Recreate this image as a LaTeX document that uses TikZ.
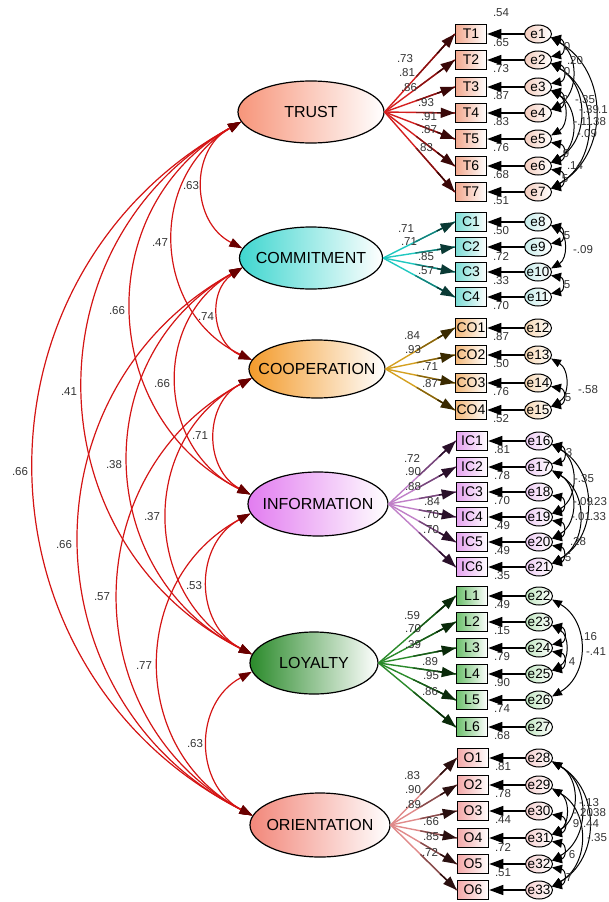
\documentclass[tikz,border=0pt]{standalone}
\usepackage{fontspec}
\setmainfont{Liberation Sans}
\usetikzlibrary{shapes.geometric,arrows.meta,calc}
\definecolor{trE}{HTML}{F7957A}\definecolor{trB}{HTML}{F2A88E}\definecolor{trR}{HTML}{F5CDBE}
\definecolor{trA}{HTML}{D42020}\definecolor{trD}{HTML}{3A0808}
\definecolor{cmE}{HTML}{3FD6CF}\definecolor{cmB}{HTML}{7ADCD5}\definecolor{cmR}{HTML}{C8EEEC}
\definecolor{cmA}{HTML}{20C8C0}\definecolor{cmD}{HTML}{0A3A35}
\definecolor{coE}{HTML}{F39A2A}\definecolor{coB}{HTML}{F4B878}\definecolor{coR}{HTML}{F7D6B0}
\definecolor{coA}{HTML}{D4A020}\definecolor{coD}{HTML}{3A2A00}
\definecolor{inE}{HTML}{E27CF0}\definecolor{inB}{HTML}{E6A2F0}\definecolor{inR}{HTML}{EFCCF5}
\definecolor{inA}{HTML}{C080C8}\definecolor{inD}{HTML}{2A102A}
\definecolor{loE}{HTML}{2A8A2A}\definecolor{loB}{HTML}{6CC06C}\definecolor{loR}{HTML}{C0E6C0}
\definecolor{loA}{HTML}{2A8A2A}\definecolor{loD}{HTML}{0A2A0A}
\definecolor{orE}{HTML}{F2877A}\definecolor{orB}{HTML}{F4A8A8}\definecolor{orR}{HTML}{F6CECE}
\definecolor{orA}{HTML}{E08A8A}\definecolor{orD}{HTML}{2A1010}
\definecolor{covline}{HTML}{D41414}\definecolor{covhead}{HTML}{6A0000}
\definecolor{numcol}{HTML}{333333}
\newcommand\zb[1]{\makebox[0pt]{#1}}
\newcommand\loadarr[4]{%
  \draw[line width=1.4pt,#3] (#1.east) -- (#2.west);
  \draw[line width=1.4pt,#3!50!#4] ($(#1.east)!0.45!(#2.west)$) -- (#2.west);
  \draw[line width=1.4pt,#4,-{Triangle[length=14pt,width=10pt]}] ($(#1.east)!0.75!(#2.west)$) -- (#2.west);}
\tikzset{
  latnode/.style={ellipse,draw=black,line width=1.2pt,inner sep=0pt,font=\fontsize{16}{16}\selectfont,left color=#1,right color=white},
  indbox/.style={rectangle,draw=black,line width=1.5pt,minimum width=31pt,minimum height=19pt,inner sep=0pt,font=\fontsize{14}{14}\selectfont,left color=#1,right color=white},
  errnode/.style={ellipse,draw=black,line width=1pt,minimum width=27pt,minimum height=18pt,inner sep=0pt,font=\fontsize{13.5}{13.5}\selectfont,left color=#1,right color=white},
  num/.style={font=\fontsize{11.5}{11.5}\selectfont,text=numcol,inner sep=0pt},
  errarr/.style={line width=1.2pt,-{Triangle[length=14pt,width=10pt]}},
  ecov/.style={line width=1pt,{Triangle[length=10pt,width=8pt]}-{Triangle[length=10pt,width=8pt]},bend left=60,looseness=1.15},
  ecovs/.style={line width=1pt,{Triangle[length=10pt,width=9pt]}-{Triangle[length=10pt,width=9pt]},bend left=80,looseness=2},
  lcov/.style={line width=1.2pt,covline,{Triangle[length=13pt,width=9pt,color=covhead]}-{Triangle[length=13pt,width=9pt,color=covhead]},bend right=62,looseness=1.18}
}
\begin{document}
\begin{tikzpicture}[x=1pt,y=-1pt]
\useasboundingbox (0,0) rectangle (609,902);
% latent variables
\node[latnode=trE,minimum width=146pt,minimum height=62pt] (TRUST) at (311,112) {\zb{TRUST}};
\node[latnode=cmE,minimum width=143pt,minimum height=62pt] (COMMITMENT) at (311,258) {\zb{COMMITMENT}};
\node[latnode=coE,minimum width=136pt,minimum height=58pt] (COOPERATION) at (317,369) {\zb{COOPERATION}};
\node[latnode=inE,minimum width=140pt,minimum height=64pt] (INFORMATION) at (318,504) {\zb{INFORMATION}};
\node[latnode=loE,minimum width=128pt,minimum height=62pt] (LOYALTY) at (314,663) {\zb{LOYALTY}};
\node[latnode=orE,minimum width=140pt,minimum height=64pt] (ORIENTATION) at (320,825) {\zb{ORIENTATION}};
% indicators and errors
\foreach \n/\y [count=\i] in {T1/34,T2/60,T3/87,T4/113,T5/139,T6/166,T7/192}{
  \node[indbox=trB] (\n) at (471,\y) {\n};
  \node[errnode=trR] (e\i) at (538,\y) {\zb{e\i}};}
\foreach \n/\y [count=\i from 8] in {C1/222,C2/247,C3/272,C4/297}{
  \node[indbox=cmB] (\n) at (471,\y) {\n};
  \node[errnode=cmR] (e\i) at (538,\y) {\zb{e\i}};}
\foreach \n/\y [count=\i from 12] in {CO1/328,CO2/355,CO3/383,CO4/410}{
  \node[indbox=coB] (\n) at (471,\y) {\n};
  \node[errnode=coR] (e\i) at (538,\y) {\zb{e\i}};}
\foreach \n/\y [count=\i from 16] in {IC1/441,IC2/467,IC3/492,IC4/517,IC5/542,IC6/567}{
  \node[indbox=inB] (\n) at (472,\y) {\n};
  \node[errnode=inR] (e\i) at (539,\y) {\zb{e\i}};}
\foreach \n/\y [count=\i from 22] in {L1/596,L2/622,L3/648,L4/674,L5/700,L6/727}{
  \node[indbox=loB] (\n) at (472,\y) {\n};
  \node[errnode=loR] (e\i) at (539,\y) {\zb{e\i}};}
\foreach \n/\y [count=\i from 28] in {O1/758,O2/785,O3/811,O4/838,O5/864,O6/890}{
  \node[indbox=orB] (\n) at (473,\y) {\n};
  \node[errnode=orR] (e\i) at (539,\y) {\zb{e\i}};}
% loadings
\foreach \b in {T1,T2,T3,T4,T5,T6,T7}{\loadarr{TRUST}{\b}{trA}{trD}}
\foreach \b in {C1,C2,C3,C4}{\loadarr{COMMITMENT}{\b}{cmA}{cmD}}
\foreach \b in {CO1,CO2,CO3,CO4}{\loadarr{COOPERATION}{\b}{coA}{coD}}
\foreach \b in {IC1,IC2,IC3,IC4,IC5,IC6}{\loadarr{INFORMATION}{\b}{inA}{inD}}
\foreach \b in {L1,L2,L3,L4,L5,L6}{\loadarr{LOYALTY}{\b}{loA}{loD}}
\foreach \b in {O1,O2,O3,O4,O5,O6}{\loadarr{ORIENTATION}{\b}{orA}{orD}}
% error arrows
\foreach \e/\b in {e1/T1,e2/T2,e3/T3,e4/T4,e5/T5,e6/T6,e7/T7,e8/C1,e9/C2,e10/C3,e11/C4,
  e12/CO1,e13/CO2,e14/CO3,e15/CO4,e16/IC1,e17/IC2,e18/IC3,e19/IC4,e20/IC5,e21/IC6,
  e22/L1,e23/L2,e24/L3,e25/L4,e26/L5,e27/L6,e28/O1,e29/O2,e30/O3,e31/O4,e32/O5,e33/O6}
  {\draw[errarr] (\e.west) -- (\b.east);}
% error covariances: adjacent pairs
\foreach \a/\b in {e1/e2,e2/e3,e3/e4,e5/e6,e6/e7,e8/e9,e10/e11,e14/e15,
  e16/e17,e18/e19,e19/e20,e20/e21,e23/e24,e24/e25,e30/e31,e31/e32,e32/e33}
  {\draw[ecovs] (\a.345) to (\b.15);}
% error covariances: longer spans
\foreach \a/\b in {e1/e7,e2/e7,e2/e6,e3/e6,e3/e5,e1/e4,
  e8/e10,e13/e15,
  e16/e21,e17/e20,e17/e21,e16/e19,
  e23/e25,e22/e26,
  e28/e33,e28/e32,e29/e31,e29/e33,e28/e31}
  {\draw[ecov] (\a.345) to (\b.15);}
% latent covariances
\foreach \a/\b in {TRUST/COMMITMENT,TRUST/COOPERATION,TRUST/INFORMATION,TRUST/LOYALTY,TRUST/ORIENTATION,
  COMMITMENT/COOPERATION,COMMITMENT/INFORMATION,COMMITMENT/LOYALTY,COMMITMENT/ORIENTATION,
  COOPERATION/INFORMATION,COOPERATION/LOYALTY,COOPERATION/ORIENTATION,
  INFORMATION/LOYALTY,INFORMATION/ORIENTATION,LOYALTY/ORIENTATION}
  {\draw[lcov] (\a.188) to (\b.172);}
% labels: loadings
\foreach \t/\x/\y [count=\i] in {.73/405/59,.81/407/73,.86/409/88,.93/426/103,.91/429/117,.87/429/130,.83/425/148,
  .71/406/229,.71/409/242,.85/426/257,.57/426/271,
  .84/412/336,.93/413/350,.71/430/367,.87/430/384,
  .72/412/458,.90/413/472,.88/413/487,.84/432/502,.70/431/515,.70/431/530,
  .59/412/616,.70/413/629,.39/413/645,.89/430/662,.95/431/676,.86/430/692,
  .83/412/776,.90/413/790,.89/413/805,.66/431/822,.85/431/837,.72/430/852}
  {\node[num] (ld\i) at (\x,\y) {\t};}
% labels: squared multiple correlations
\foreach \t/\x/\y [count=\i] in {.54/501/13,.65/501/43,.73/501/69,.87/501/96,.83/501/122,.76/501/148,.68/501/175,.51/501/201,
  .50/501/231,.72/501/256,.33/501/281,.70/501/306,
  .87/501/337,.50/501/364,.76/501/392,.52/501/419,
  .81/502/450,.78/502/476,.70/502/501,.49/502/526,.49/502/551,.35/502/576,
  .49/502/605,.15/502/631,.79/502/657,.90/502/683,.74/502/709,.68/502/736,
  .81/503/767,.78/503/794,.44/503/820,.72/503/847,.51/503/873}
  {\node[num] (rs\i) at (\x,\y) {\t};}
% labels: latent correlations
\foreach \t/\x/\y [count=\i] in {.63/191/186,.47/160/243,.66/117/311,.41/69/392,.66/20/472,
  .74/206/317,.66/162/384,.38/114/465,.66/64/545,
  .71/200/436,.37/152/517,.57/102/597,
  .53/194/586,.77/144/666,.63/195/744}
  {\node[num] (lc\i) at (\x,\y) {\t};}
% labels: error covariances
\foreach \t/\x/\y [count=\i] in {.20/575/61,-.35/585/100,-.39/589/110,.1/603/110,-.11/583/122,.38/598/122,-.09/587/134,.14/575/166,
  0/567/47,0/567/72,2/565/99,9/566/154,5/565/179,
  -.09/583/250,5/567/236,5/567/285,
  -.58/588/390,5/568/398,
  -.35/584/479,-.09/583/502,.23/599/502,-.01/581/517,.33/598/517,.28/578/542,3/569/453,5/568/558,
  .16/589/637,-.41/596/652,4/572/662,
  -.13/589/803,-.20/583/813,.38/598/813,9/576/824,.44/591/824,-.35/597/838,6/572/855,7/569/878}
  {\node[num] (ec\i) at (\x,\y) {\t};}
\end{tikzpicture}
\end{document}
